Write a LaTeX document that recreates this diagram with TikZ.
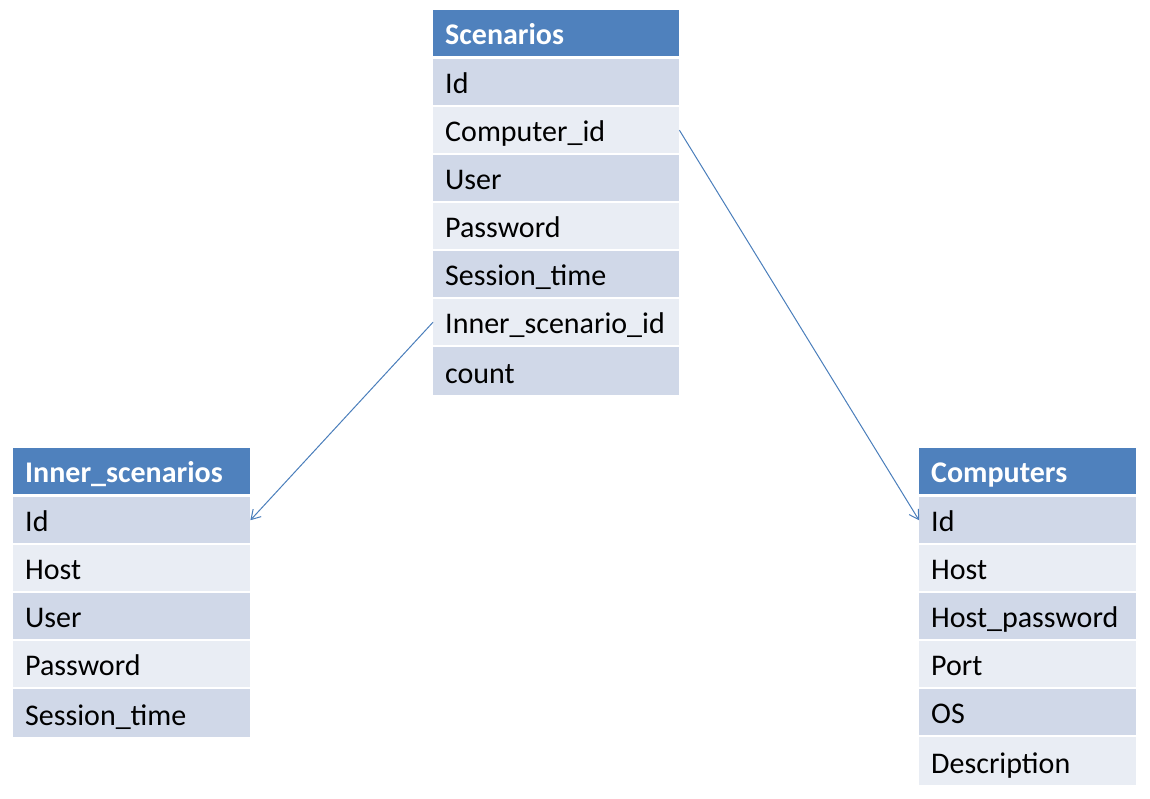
\documentclass[tikz,border=0pt]{standalone}
\usepackage{fontspec}
\setmainfont{Carlito}
\usetikzlibrary{arrows.meta}
\definecolor{hdrblue}{HTML}{4F81BD}
\definecolor{rowA}{HTML}{D0D8E8}
\definecolor{rowB}{HTML}{E9EDF4}
\definecolor{linkblue}{HTML}{4A7EBB}
\tikzset{
  cellbox/.style={rectangle, inner xsep=12pt, inner ysep=0pt, minimum height=46pt,
    text height=26pt, text depth=4pt, align=left, font=\fontsize{30}{36}\selectfont},
  hdrbox/.style={cellbox, fill=hdrblue, text=white, font=\fontsize{30}{36}\selectfont\bfseries},
  rowbox/.style={cellbox, text=black},
  lastrow/.style={minimum height=48pt, text height=27pt, text depth=3pt},
  link/.style={draw=linkblue, line width=1pt, -{Straight Barb[length=9pt,width=11pt]}}
}
\newcommand\mytable[7]{%
  \pgfmathsetmacro\tw{#4-24}%
  \node[hdrbox, text width=\tw pt, anchor=north west] (#1-0) at (#2,#3) {#5};
  \foreach \t [count=\k] in {#6} {
    \pgfmathsetmacro\yy{#3+49+48*(\k-1)}
    \pgfmathtruncatemacro\odd{mod(\k,2)}
    \ifnum\odd=1 \def\fc{rowA}\else\def\fc{rowB}\fi
    \ifnum\k=#7 \def\extra{lastrow}\else\def\extra{}\fi
    \node[rowbox, fill=\fc, text width=\tw pt, anchor=north west, \extra] (#1-\k) at (#2,\yy) {\t};
  }%
}
\begin{document}
\begin{tikzpicture}[x=1pt,y=-1pt]
\useasboundingbox (0,0) rectangle (1150,798);
\mytable{sc}{433}{10}{246}{Scenarios}{Id,Computer\_id,User,Password,Session\_time,Inner\_scenario\_id,count}{7}
\mytable{in}{13}{448}{237}{Inner\_scenarios}{Id,Host,User,Password,Session\_time}{5}
\mytable{co}{919}{448}{217}{Computers}{Id,Host,Host\_password,Port,OS,Description}{6}
\draw[link] (sc-2.east) -- (co-1.west);
\draw[link] (sc-6.west) -- (in-1.east);
\end{tikzpicture}
\end{document}
